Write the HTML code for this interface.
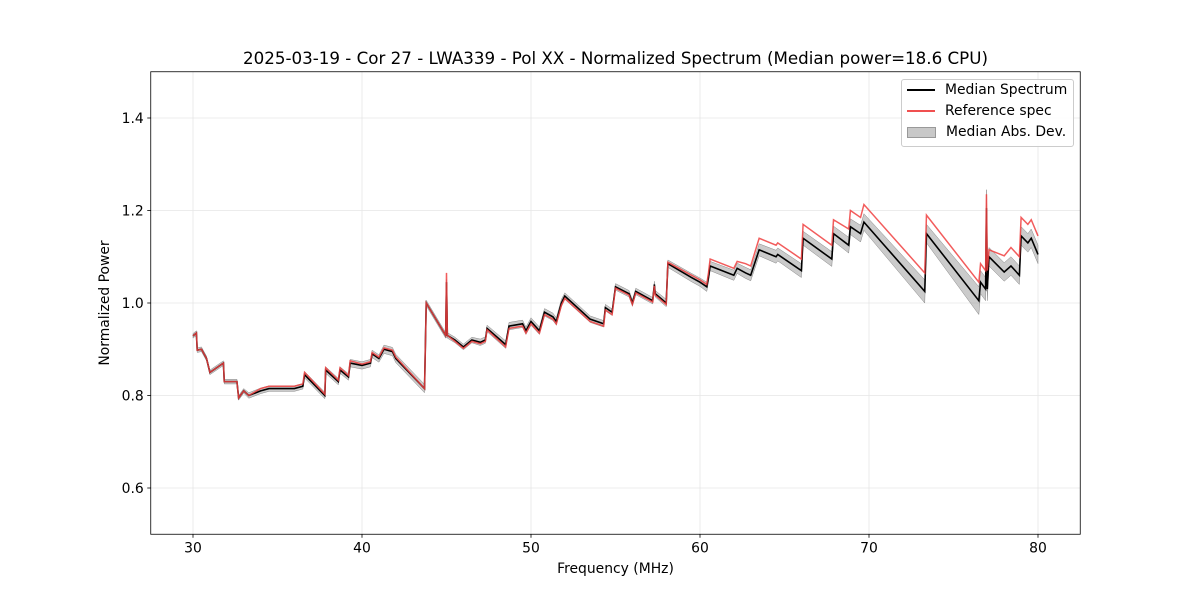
<!DOCTYPE html>
<html><head><meta charset="utf-8"><style>
html,body{margin:0;padding:0;background:#fff;}
svg{display:block;font-family:"DejaVu Sans","Liberation Sans",sans-serif;}
</style></head><body>
<svg id="chart" width="1200" height="600"></svg>
<script>
const freqs = [30,30.2,30.25,30.5,30.8,31.0,31.8,31.85,32.6,32.7,33.0,33.3,34.0,34.5,35.0,36.0,36.5,36.6,37.8,37.85,38.6,38.7,39.2,39.3,40.0,40.5,40.6,41.0,41.3,41.8,42.0,43.7,43.8,44.95,45.0,45.05,45.5,46.0,46.5,47.0,47.3,47.4,48.5,48.7,49.5,49.7,50.0,50.5,50.8,51.3,51.5,51.8,52.0,53.5,54.3,54.4,54.8,55.0,55.8,56.0,56.2,57.2,57.3,57.35,58.0,58.1,59.5,60.0,60.4,60.5,60.6,62.0,62.2,62.7,63.0,63.5,64.5,64.6,66.0,66.1,67.8,67.9,68.8,68.9,69.5,69.7,73.3,73.4,76.5,76.6,76.9,76.95,77.0,77.1,78.0,78.4,78.9,79.0,79.4,79.6,80.0];
const median = [0.929,0.935,0.898,0.90,0.88,0.85,0.87,0.83,0.83,0.795,0.81,0.80,0.81,0.815,0.815,0.815,0.82,0.845,0.80,0.855,0.83,0.855,0.84,0.87,0.865,0.87,0.89,0.88,0.90,0.895,0.88,0.815,1.0,0.93,1.045,0.93,0.92,0.905,0.92,0.915,0.92,0.945,0.91,0.95,0.955,0.94,0.96,0.94,0.98,0.97,0.96,1.0,1.015,0.965,0.955,0.99,0.98,1.035,1.02,1.0,1.025,1.005,1.04,1.02,1.0,1.085,1.055,1.045,1.035,1.055,1.08,1.06,1.075,1.065,1.06,1.115,1.10,1.105,1.07,1.14,1.095,1.15,1.125,1.165,1.15,1.175,1.025,1.15,1.005,1.045,1.03,1.205,1.03,1.10,1.067,1.08,1.06,1.145,1.13,1.14,1.105];
const refOffset = [0,0,0,0,0,0,0,0,0,0,0,0,0.005,0.005,0.005,0.005,0.005,0.005,0.003,0.005,0.003,0.005,0.003,0.005,0.003,0.003,0.003,0.003,0.003,0.003,0.003,0,0,0,0.02,0,-0.003,-0.003,-0.003,-0.003,-0.003,-0.003,-0.005,-0.005,-0.005,-0.005,-0.005,-0.005,-0.005,-0.005,-0.005,-0.005,-0.005,-0.005,-0.005,-0.005,-0.005,-0.003,-0.003,-0.003,-0.003,-0.003,-0.003,-0.003,-0.003,0.003,0.005,0.005,0.005,0.01,0.015,0.015,0.015,0.02,0.02,0.025,0.025,0.025,0.025,0.03,0.03,0.03,0.035,0.035,0.035,0.038,0.04,0.04,0.04,0.04,0.04,0.03,0.04,0.015,0.035,0.04,0.04,0.04,0.04,0.04,0.04];
const madWidth = [0.005,0.005,0.005,0.005,0.005,0.005,0.005,0.005,0.005,0.005,0.005,0.006,0.006,0.006,0.006,0.006,0.006,0.007,0.007,0.007,0.007,0.007,0.007,0.008,0.008,0.008,0.008,0.008,0.009,0.009,0.009,0.009,0.006,0.006,0.006,0.006,0.006,0.006,0.006,0.007,0.007,0.007,0.008,0.008,0.008,0.008,0.008,0.008,0.008,0.008,0.008,0.008,0.007,0.007,0.007,0.007,0.007,0.007,0.007,0.007,0.007,0.007,0.007,0.007,0.008,0.008,0.009,0.009,0.01,0.01,0.01,0.011,0.011,0.012,0.012,0.013,0.014,0.014,0.015,0.015,0.016,0.016,0.017,0.017,0.018,0.018,0.025,0.02,0.03,0.025,0.025,0.04,0.025,0.02,0.02,0.02,0.02,0.02,0.02,0.02,0.02];
const xTicks = [30,40,50,60,70,80];
const yTicks = [0.6,0.8,1.0,1.2,1.4];
const yTickLabels = ["0.6","0.8","1.0","1.2","1.4"];

const L=150.75,R=1080.25,T=71.75,B=534.25;
const X = f => L + (f-27.5)/(82.5-27.5)*(R-L);
const Y = v => B - (v-0.5)/(1.5-0.5)*(B-T);
const NS="http://www.w3.org/2000/svg";
const svg=document.getElementById('chart');
function mk(tag, attrs, parent){const e=document.createElementNS(NS,tag);for(const k in attrs)e.setAttribute(k,attrs[k]);(parent||svg).appendChild(e);return e;}

const grid=mk('g',{});


xTicks.forEach(t=>{mk('line',{x1:X(t),x2:X(t),y1:T,y2:B,stroke:'#e6e6e6','stroke-width':0.8},grid);});
yTicks.forEach(t=>{mk('line',{x1:L,x2:R,y1:Y(t),y2:Y(t),stroke:'#e6e6e6','stroke-width':0.8},grid);});

let up=freqs.map((f,i)=>X(f)+','+Y(median[i]+madWidth[i]));
let dn=freqs.map((f,i)=>X(f)+','+Y(median[i]-madWidth[i])).reverse();
const band=mk('polygon',{points:up.concat(dn).join(' '),fill:'#a0a0a0','fill-opacity':0.55,stroke:'#888','stroke-width':0.5});



const medLine=mk('polyline',{points:freqs.map((f,i)=>X(f)+','+Y(median[i])).join(' '),fill:'none',stroke:'#000','stroke-width':1.6});



const refLine=mk('polyline',{points:freqs.map((f,i)=>X(f)+','+Y(median[i]+refOffset[i])).join(' '),fill:'none',stroke:'#f04040','stroke-opacity':0.85,'stroke-width':1.5});



const frame=mk('rect',{x:L,y:T,width:R-L,height:B-T,fill:'none',stroke:'#000','stroke-width':0.8});



xTicks.forEach(t=>{
  mk('line',{x1:X(t),x2:X(t),y1:B,y2:B+3.5,stroke:'#000','stroke-width':0.8});
  const tx=mk('text',{x:X(t),y:B+18,'text-anchor':'middle','font-size':13.9});
  tx.textContent=t;
  
  
});
yTicks.forEach((t,i)=>{
  mk('line',{x1:L-3.5,x2:L,y1:Y(t),y2:Y(t),stroke:'#000','stroke-width':0.8});
  const tx=mk('text',{x:L-7,y:Y(t)+5,'text-anchor':'end','font-size':13.9});
  tx.textContent=yTickLabels[i];
  
  
});
</script>
<div style="position:absolute;left:0;top:0;width:1200px;height:600px;pointer-events:none;font-family:'DejaVu Sans','Liberation Sans',sans-serif;">
  <div style="position:absolute;left:0;width:1231px;top:48px;text-align:center;font-size:16.7px;white-space:nowrap;">2025-03-19 - Cor 27 - LWA339 - Pol XX - Normalized Spectrum (Median power=18.6 CPU)</div>
  <div style="position:absolute;left:0;width:1231px;top:561px;text-align:center;font-size:13.9px;">Frequency (MHz)</div>
  <div style="position:absolute;left:105px;top:303px;font-size:13.9px;transform:translate(-50%,-50%) rotate(-90deg);white-space:nowrap;">Normalized Power</div>
  <div style="position:absolute;left:901px;top:79px;width:171px;height:66px;border:1px solid #ccc;border-radius:3px;background:rgba(255,255,255,0.85);font-size:13.9px;white-space:nowrap;">
    <div style="position:absolute;left:5px;top:2px;"><span style="display:inline-block;width:28px;height:2px;background:#000;vertical-align:middle;margin-right:10px;"></span>Median Spectrum</div>
    <div style="position:absolute;left:5px;top:23px;"><span style="display:inline-block;width:28px;height:2px;background:#f05050;vertical-align:middle;margin-right:10px;"></span>Reference spec</div>
    <div style="position:absolute;left:5px;top:44px;"><span style="display:inline-block;width:27px;height:9px;background:#c8c8c8;border:1px solid #999;vertical-align:middle;margin-right:10px;"></span>Median Abs. Dev.</div>
  </div>
</div>
</body></html>
